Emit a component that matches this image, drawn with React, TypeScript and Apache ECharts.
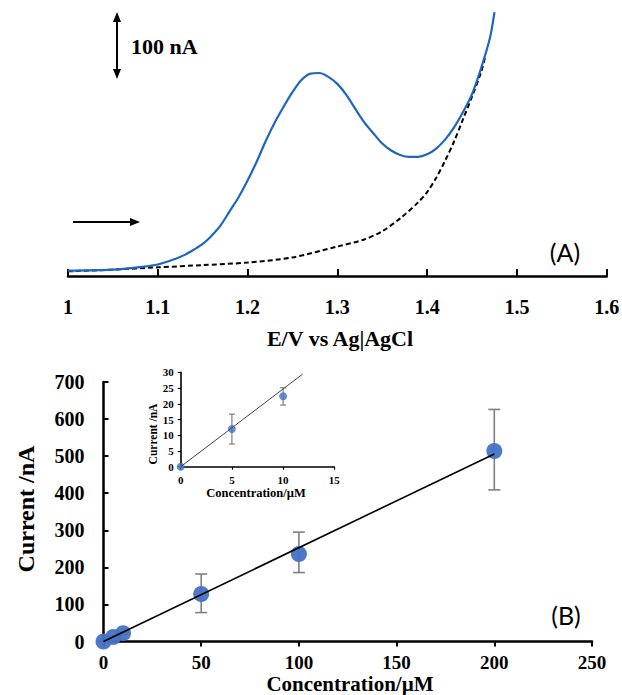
import React, { useEffect, useRef } from "react";
import * as echarts from "echarts";

// Panel A: linear sweep voltammograms (current in nA, relative to baseline)
const potentialBlue = [1.0, 1.05, 1.08, 1.1, 1.12, 1.13, 1.14, 1.15, 1.16, 1.17, 1.18, 1.19, 1.2, 1.21, 1.22, 1.23, 1.24, 1.25, 1.26, 1.27, 1.28, 1.29, 1.3, 1.31, 1.32, 1.33, 1.34, 1.35, 1.36, 1.37, 1.38, 1.39, 1.4, 1.41, 1.42, 1.43, 1.44, 1.45, 1.46, 1.47, 1.475];
const currentBlue = [8.3, 10, 14, 18, 27, 33, 41, 50, 63, 79, 101, 123, 149, 178, 210, 239, 264, 287, 306, 316, 317, 311, 300, 283, 261, 240, 223, 207, 196, 189, 186, 186, 190, 199, 213, 232, 256, 284, 324, 372, 412];
const potentialDashed = [1.0, 1.05, 1.1, 1.15, 1.2, 1.25, 1.3, 1.33, 1.35, 1.37, 1.39, 1.4, 1.41, 1.42, 1.43, 1.44, 1.45, 1.46, 1.465];
const currentDashed = [7.3, 10, 13.5, 17, 21, 29, 46, 57, 70, 90, 115, 131, 153, 180, 210, 245, 280, 318, 344];

// Panel B: calibration
const concentration = [0, 5, 10, 50, 100, 200];
const currentMean = [0, 12.0, 22.4, 128, 236, 514];
const errLow = [0, 7.2, 19.6, 78, 186, 409];
const errHigh = [0, 16.7, 25.1, 182, 295, 626];
const trendX = [0, 200];
const trendY = [0, 506];
const insetTrendX = [0, 11.9];
const insetTrendY = [0, 29.4];

const xTicksA = [1, 1.1, 1.2, 1.3, 1.4, 1.5, 1.6];

const SERIF = "Liberation Serif";
const BLUE_LINE = "#1f66c0";
const MARK = "#4472c4";
const ERR = "#808080";

function zip(a: number[], b: number[]) {
  return a.map((v, i) => [v, b[i]]);
}

function errorRender(cap: number) {
  return (params: any, api: any) => {
    const x = api.value(0);
    const lo = api.value(1);
    const hi = api.value(2);
    const p1 = api.coord([x, lo]);
    const p2 = api.coord([x, hi]);
    const st = { stroke: ERR, lineWidth: cap > 5 ? 1.6 : 1.2 };
    return {
      type: "group",
      children: [
        { type: "line", shape: { x1: p1[0], y1: p1[1], x2: p2[0], y2: p2[1] }, style: st },
        { type: "line", shape: { x1: p1[0] - cap, y1: p1[1], x2: p1[0] + cap, y2: p1[1] }, style: st },
        { type: "line", shape: { x1: p2[0] - cap, y1: p2[1], x2: p2[0] + cap, y2: p2[1] }, style: st },
      ],
    };
  };
}

export default function App() {
  const ref = useRef<HTMLDivElement>(null);
  useEffect(() => {
    if (!ref.current) return;
    const chart = echarts.init(ref.current, null, { renderer: "svg" });
    const insetIdx = concentration.map((c, i) => i).filter((i) => concentration[i] <= 15);
    const axisLineBlack = (w: number) => ({ show: true, onZero: false, lineStyle: { color: "#000", width: w } });
    const lbl = (size: number, margin: number, extra: any = {}) => ({
      show: true,
      margin,
      fontFamily: SERIF,
      fontWeight: "bold",
      fontSize: size,
      color: "#000",
      ...extra,
    });

    const option: any = {
      animation: false,
      backgroundColor: "#fff",
      textStyle: { fontFamily: SERIF, fontWeight: "bold", color: "#000" },
      grid: [
        { left: 68, right: 15.3, top: 0, bottom: 419, outerBoundsMode: "none", containLabel: false },
        { left: 103.5, right: 30, top: 382, bottom: 53.5, outerBoundsMode: "none", containLabel: false },
        { left: 180.7, right: 287.7, top: 372.3, bottom: 228.3, outerBoundsMode: "none", containLabel: false },
      ],
      xAxis: [
        {
          gridIndex: 0, type: "value", min: 1, max: 1.6, interval: 0.1,
          axisLine: axisLineBlack(2.5),
          axisTick: { show: true, inside: true, length: 7, lineStyle: { color: "#000", width: 2 } },
          splitLine: { show: false },
          axisLabel: lbl(20, 21, {
            formatter: (v: number) => {
              const t = xTicksA.find((k) => Math.abs(k - v) < 1e-6);
              return t === undefined ? "" : String(t);
            },
          }),
        },
        {
          gridIndex: 1, type: "value", min: 0, max: 250, interval: 50,
          axisLine: axisLineBlack(2.5),
          axisTick: { show: true, inside: false, length: 5, lineStyle: { color: "#000", width: 2 } },
          splitLine: { show: false },
          axisLabel: lbl(19, 11),
        },
        {
          gridIndex: 2, type: "value", min: 0, max: 15, interval: 5,
          axisLine: axisLineBlack(1.6),
          axisTick: { show: true, inside: false, length: 3, lineStyle: { color: "#000", width: 1.2 } },
          splitLine: { show: false },
          axisLabel: lbl(11, 8),
        },
      ],
      yAxis: [
        { gridIndex: 0, type: "value", min: 0, max: 431, show: false, splitLine: { show: false } },
        {
          gridIndex: 1, type: "value", min: 0, max: 700, interval: 100,
          axisLine: axisLineBlack(2.5),
          axisTick: { show: true, inside: true, length: 5, lineStyle: { color: "#000", width: 2 } },
          splitLine: { show: false },
          axisLabel: lbl(20, 19),
        },
        {
          gridIndex: 2, type: "value", min: 0, max: 30, interval: 5,
          axisLine: axisLineBlack(1.6),
          axisTick: { show: true, inside: false, length: 3, lineStyle: { color: "#000", width: 1.2 } },
          splitLine: { show: false },
          axisLabel: lbl(11, 7),
        },
      ],
      series: [
        {
          type: "line", xAxisIndex: 0, yAxisIndex: 0, data: zip(potentialDashed, currentDashed),
          smooth: 0.3, showSymbol: false, symbol: "none",
          lineStyle: { color: "#000", width: 2, type: [5, 3] }, z: 3,
        },
        {
          type: "line", xAxisIndex: 0, yAxisIndex: 0, data: zip(potentialBlue, currentBlue),
          smooth: 0.3, showSymbol: false, symbol: "none",
          lineStyle: { color: BLUE_LINE, width: 2.2 }, z: 4,
        },
        {
          type: "custom", xAxisIndex: 1, yAxisIndex: 1,
          data: concentration.map((c, i) => [c, errLow[i], errHigh[i]]),
          encode: { x: 0, y: [1, 2] }, renderItem: errorRender(6), z: 2,
        },
        {
          type: "scatter", xAxisIndex: 1, yAxisIndex: 1, data: zip(concentration, currentMean),
          symbolSize: 16, itemStyle: { color: MARK, opacity: 0.95 }, z: 3,
        },
        {
          type: "line", xAxisIndex: 1, yAxisIndex: 1, data: zip(trendX, trendY),
          showSymbol: false, symbol: "none", lineStyle: { color: "#000", width: 1.6 }, z: 5,
        },
        {
          type: "custom", xAxisIndex: 2, yAxisIndex: 2,
          data: insetIdx.map((i) => [concentration[i], errLow[i], errHigh[i]]),
          encode: { x: 0, y: [1, 2] }, renderItem: errorRender(3), z: 2,
        },
        {
          type: "scatter", xAxisIndex: 2, yAxisIndex: 2,
          data: insetIdx.map((i) => [concentration[i], currentMean[i]]),
          symbolSize: 8, itemStyle: { color: MARK }, z: 3,
        },
        {
          type: "line", xAxisIndex: 2, yAxisIndex: 2, data: zip(insetTrendX, insetTrendY),
          showSymbol: false, symbol: "none", lineStyle: { color: "#444", width: 1 }, z: 4,
        },
      ],
      graphic: [
        // scale arrow
        { type: "line", shape: { x1: 117, y1: 20, x2: 117, y2: 71 }, style: { stroke: "#000", lineWidth: 2 } },
        { type: "polygon", shape: { points: [[117, 12], [113, 22], [121, 22]] }, style: { fill: "#000" } },
        { type: "polygon", shape: { points: [[117, 79], [113, 69], [121, 69]] }, style: { fill: "#000" } },
        {
          type: "text", x: 131, y: 46,
          style: { text: "100 nA", fontFamily: SERIF, fontWeight: "bold", fontSize: 22, fill: "#000", textAlign: "left", textVerticalAlign: "middle" },
        },
        // sweep direction arrow
        { type: "line", shape: { x1: 73, y1: 222, x2: 132, y2: 222 }, style: { stroke: "#000", lineWidth: 2 } },
        { type: "polygon", shape: { points: [[140, 222], [130, 218], [130, 226]] }, style: { fill: "#000" } },
        {
          type: "text", x: 565, y: 252,
          style: { text: "(A)", fontFamily: "Lato", fontWeight: "normal", fontSize: 25, fill: "#000", textAlign: "center", textVerticalAlign: "middle" },
        },
        {
          type: "text", x: 340, y: 338,
          style: { text: "E/V vs Ag|AgCl", fontFamily: SERIF, fontWeight: "bold", fontSize: 22, fill: "#000", textAlign: "center", textVerticalAlign: "middle" },
        },
        {
          type: "text", x: 566, y: 615,
          style: { text: "(B)", fontFamily: "Lato", fontWeight: "normal", fontSize: 25, fill: "#000", textAlign: "center", textVerticalAlign: "middle" },
        },
        {
          type: "text", x: 350, y: 684,
          style: { text: "Concentration/µM", fontFamily: SERIF, fontWeight: "bold", fontSize: 21, fill: "#000", textAlign: "center", textVerticalAlign: "middle" },
        },
        {
          type: "text", x: 26, y: 509, rotation: Math.PI / 2,
          style: { text: "Current /nA", fontFamily: SERIF, fontWeight: "bold", fontSize: 24, fill: "#000", textAlign: "center", textVerticalAlign: "middle" },
        },
        {
          type: "text", x: 256, y: 493,
          style: { text: "Concentration/µM", fontFamily: SERIF, fontWeight: "bold", fontSize: 12.5, fill: "#000", textAlign: "center", textVerticalAlign: "middle" },
        },
        {
          type: "text", x: 153, y: 434, rotation: Math.PI / 2,
          style: { text: "Current /nA", fontFamily: SERIF, fontWeight: "bold", fontSize: 11.5, fill: "#000", textAlign: "center", textVerticalAlign: "middle" },
        },
      ],
    };
    chart.setOption(option);
    return () => chart.dispose();
  }, []);
  return <div ref={ref} style={{ position: "fixed", left: 0, top: 0, width: 622, height: 695 }} />;
}
